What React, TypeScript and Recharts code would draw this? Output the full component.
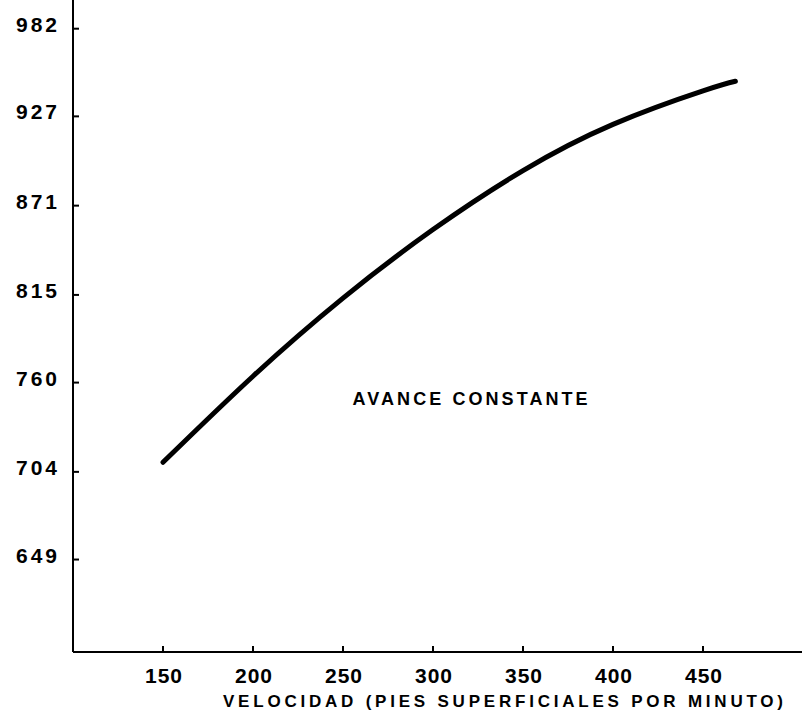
import { LineChart, Line, XAxis, YAxis, ReferenceDot, Label } from 'recharts'

// velocidad en pies superficiales por minuto
const velocidad = [150, 200, 250, 300, 350, 400, 450, 468]
const avance = [710, 764, 813, 856, 893, 922, 943, 949]

const xTicks = [150, 200, 250, 300, 350, 400, 450]
const yTicks = [649, 704, 760, 815, 871, 927, 982]

const data = velocidad.map((v, i) => ({ v, a: avance[i] }))

const PLOT_LEFT = 73
const PLOT_BOTTOM = 652
const FONT = '"Liberation Sans", Arial, sans-serif'

const YTick = (props: any) => {
  const { y, payload } = props
  return (
    <g>
      <line x1={PLOT_LEFT} x2={PLOT_LEFT + 6} y1={y} y2={y} stroke="#000" strokeWidth={2} />
      <text x={60} y={y + 3} textAnchor="end" fontFamily={FONT} fontWeight={700} fontSize={21} letterSpacing={3} fill="#000">
        {payload.value}
      </text>
    </g>
  )
}

const XTick = (props: any) => {
  const { x, payload } = props
  return (
    <g>
      <line x1={x} x2={x} y1={PLOT_BOTTOM} y2={PLOT_BOTTOM - 6} stroke="#000" strokeWidth={2} />
      <text x={x + 1} y={683} textAnchor="middle" fontFamily={FONT} fontWeight={700} fontSize={21} letterSpacing={1} fill="#000">
        {payload.value}
      </text>
    </g>
  )
}

export default function App() {
  return (
    <div style={{ position: 'absolute', top: 0, left: 0, background: '#fff' }}>
      <LineChart width={802} height={713} data={data} margin={{ top: 0, right: 0, bottom: 0, left: 0 }}>
        <XAxis
          dataKey="v"
          type="number"
          domain={[100, 505]}
          ticks={xTicks}
          allowDataOverflow
          height={61}
          axisLine={{ stroke: '#000', strokeWidth: 2 }}
          tickLine={false}
          tick={<XTick />}
        >
          <Label
            content={() => (
              <text x={503} y={707} textAnchor="middle" fontFamily={FONT} fontWeight={700} fontSize={17} textLength={560} lengthAdjust="spacing" fill="#000">
                VELOCIDAD  (PIES SUPERFICIALES POR MINUTO)
              </text>
            )}
          />
        </XAxis>
        <YAxis
          type="number"
          domain={[591, 1000]}
          ticks={yTicks}
          allowDataOverflow
          width={73}
          axisLine={{ stroke: '#000', strokeWidth: 2 }}
          tickLine={false}
          tick={<YTick />}
        />
        <ReferenceDot
          x={320.6}
          y={750.6}
          r={1}
          shape={(p: any) => (
            <text x={p.cx} y={p.cy + 7} textAnchor="middle" fontFamily={FONT} fontWeight={700} fontSize={18} textLength={235} lengthAdjust="spacing" fill="#000">
              AVANCE CONSTANTE
            </text>
          )}
        />
        <Line
          type="natural"
          dataKey="a"
          stroke="#000"
          strokeWidth={5}
          strokeLinecap="round"
          dot={false}
          isAnimationActive={false}
        />
      </LineChart>
    </div>
  )
}
